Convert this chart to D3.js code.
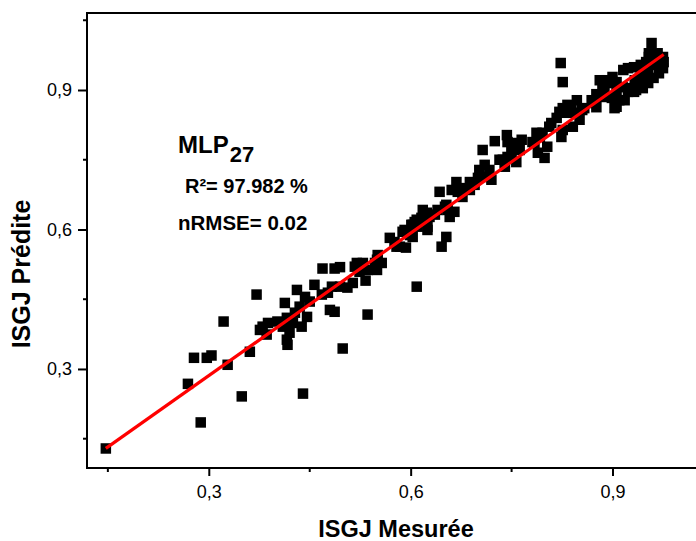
<!DOCTYPE html>
<html>
<head>
<meta charset="utf-8">
<script src="https://cdn.jsdelivr.net/npm/d3@7"></script>
<style>
  body { margin: 0; background: #fff; }
  svg { display: block; font-family: Arial, "Liberation Sans", sans-serif; }
  .axis-title { font-size: 23.5px; font-weight: bold; fill: #000; }
  .note { font-weight: bold; fill: #000; }
</style>
</head>
<body>
<div id="chart"></div>
<script>
const measured = [
  0.147,0.278,0.297,0.304,0.328,0.269,0.349,0.288,0.361,0.322,
  0.440,0.371,0.417,0.499,0.536,0.609,0.380,0.388,0.386,0.402,
  0.410,0.425,0.420,0.438,0.416,0.428,0.446,0.413,0.431,0.443,
  0.435,0.450,0.457,0.468,0.477,0.483,0.495,0.469,0.487,0.495,
  0.514,0.506,0.520,0.529,0.524,0.536,0.550,0.550,0.551,0.533,
  0.480,0.487,0.557,0.569,0.576,0.584,0.593,0.591,0.599,0.603,
  0.609,0.618,0.625,0.628,0.636,0.640,0.651,0.655,0.665,0.643,
  0.653,0.646,0.653,0.658,0.661,0.668,0.670,0.677,0.680,0.688,
  0.688,0.624,0.616,0.606,0.610,0.601,0.588,0.599,0.579,0.547,
  0.517,0.707,0.725,0.717,0.713,0.720,0.695,0.700,0.702,0.710,
  0.737,0.740,0.744,0.750,0.743,0.744,0.750,0.757,0.765,0.762,
  0.757,0.740,0.732,0.787,0.784,0.789,0.823,0.826,0.958,0.799,
  0.803,0.792,0.781,0.796,0.809,0.817,0.821,0.826,0.833,0.847,
  0.824,0.826,0.841,0.841,0.851,0.855,0.806,0.829,0.858,0.869,
  0.876,0.884,0.888,0.891,0.900,0.899,0.903,0.906,0.910,0.918,
  0.906,0.916,0.923,0.932,0.942,0.950,0.954,0.960,0.967,0.975,
  0.976,0.975,0.969,0.961,0.953,0.945,0.932,0.928,0.939,0.948,
  0.960,0.972,0.896,0.906,0.915,0.881,0.933,0.942,0.953,0.967,
  0.935,0.923,0.954,0.876,0.885,0.870,0.839,0.603,0.625,0.376,
  0.416
];
const predicted = [
  0.129,0.324,0.324,0.329,0.309,0.268,0.241,0.185,0.337,0.402,
  0.247,0.460,0.352,0.344,0.417,0.477,0.391,0.399,0.374,0.402,
  0.391,0.399,0.378,0.391,0.410,0.421,0.412,0.442,0.470,0.455,
  0.434,0.445,0.481,0.460,0.464,0.477,0.477,0.516,0.516,0.519,
  0.485,0.475,0.528,0.528,0.509,0.513,0.513,0.535,0.545,0.490,
  0.427,0.423,0.528,0.582,0.573,0.563,0.561,0.599,0.593,0.610,
  0.621,0.642,0.606,0.627,0.632,0.642,0.649,0.642,0.638,0.681,
  0.584,0.563,0.653,0.627,0.685,0.702,0.681,0.670,0.689,0.702,
  0.685,0.636,0.625,0.616,0.606,0.610,0.595,0.588,0.563,0.528,
  0.520,0.771,0.790,0.728,0.713,0.707,0.696,0.711,0.728,0.739,
  0.750,0.743,0.756,0.767,0.803,0.788,0.778,0.786,0.793,0.771,
  0.745,0.735,0.750,0.808,0.786,0.765,0.958,0.917,1.001,0.754,
  0.778,0.799,0.788,0.808,0.829,0.840,0.853,0.861,0.868,0.878,
  0.799,0.814,0.821,0.851,0.836,0.857,0.821,0.851,0.861,0.878,
  0.863,0.885,0.904,0.921,0.928,0.883,0.861,0.896,0.878,0.878,
  0.864,0.943,0.947,0.949,0.954,0.960,0.971,0.975,0.979,0.971,
  0.960,0.947,0.936,0.926,0.915,0.904,0.896,0.904,0.921,0.936,
  0.954,0.958,0.915,0.917,0.906,0.921,0.921,0.936,0.943,0.964,
  0.900,0.896,0.979,0.891,0.908,0.872,0.863,0.584,0.599,0.384,
  0.363
];

// fitted line
const fitSlope = 1.022;
const fitIntercept = -0.021;

// ticks
const majorTicks = [0.3, 0.6, 0.9];
const tickLabels = ["0,3", "0,6", "0,9"];
const minorTicksX = [0.15, 0.45, 0.75];
const minorTicksY = [0.15, 0.45, 0.75, 1.05];

const data = measured.map((m, i) => ({x: m, y: predicted[i]}));

// dimensions
const W = 696, H = 541;
const margin = {top: 13, right: -4, bottom: 73, left: 87};
const width = W - margin.left - margin.right;
const height = H - margin.top - margin.bottom;

const svg = d3.select("#chart")
  .append("svg")
    .attr("width", W)
    .attr("height", H)
  .append("g")
    .attr("transform", `translate(${margin.left}, ${margin.top})`);

const xScale = d3.scaleLinear().domain([0.119, 1.03]).range([0, width]);
const yScale = d3.scaleLinear().domain([0.087, 1.0656]).range([height, 0]);

// frame (top line)
svg.append("line")
  .attr("x1", 0).attr("x2", width + 10)
  .attr("y1", 0).attr("y2", 0)
  .attr("stroke", "#000").attr("stroke-width", 2);

// x axis
const xAxis = svg.append("g")
  .attr("transform", `translate(0, ${height})`);
xAxis.call(d3.axisBottom(xScale).tickValues(majorTicks).tickSize(8).tickPadding(9)
    .tickFormat((d, i) => tickLabels[i]))
  .call(g => g.select(".domain").attr("stroke-width", 2).attr("d", `M-1,0H${width + 10}`));
xAxis.selectAll(".tick line").attr("stroke-width", 2);
xAxis.selectAll(".tick text")
  .style("font-size", "18px")
  .style("font-family", "Arial, 'Liberation Sans', sans-serif")
  .attr("fill", "#000");
xAxis.append("g").selectAll("line")
  .data(minorTicksX)
  .join("line")
    .attr("x1", d => xScale(d)).attr("x2", d => xScale(d))
    .attr("y1", 0).attr("y2", 4)
    .attr("stroke", "#000").attr("stroke-width", 2);

// y axis
const yAxis = svg.append("g");
yAxis.call(d3.axisLeft(yScale).tickValues(majorTicks).tickSize(9).tickPadding(6)
    .tickFormat((d, i) => tickLabels[i]))
  .call(g => g.select(".domain").attr("stroke-width", 2).attr("d", `M0,-1V${height + 1}`));
yAxis.selectAll(".tick line").attr("stroke-width", 2);
yAxis.selectAll(".tick text")
  .style("font-size", "18px")
  .style("font-family", "Arial, 'Liberation Sans', sans-serif")
  .attr("fill", "#000");
yAxis.append("g").selectAll("line")
  .data(minorTicksY)
  .join("line")
    .attr("x1", 0).attr("x2", -4)
    .attr("y1", d => yScale(d)).attr("y2", d => yScale(d))
    .attr("stroke", "#000").attr("stroke-width", 2);

// points
const size = 10.5;
svg.append("g").selectAll("rect")
  .data(data)
  .join("rect")
    .attr("x", d => xScale(d.x) - size / 2)
    .attr("y", d => yScale(d.y) - size / 2)
    .attr("width", size)
    .attr("height", size)
    .attr("fill", "#000");

// regression line
const ext = d3.extent(measured);
svg.append("line")
  .attr("x1", xScale(ext[0])).attr("y1", yScale(fitIntercept + fitSlope * ext[0]))
  .attr("x2", xScale(ext[1])).attr("y2", yScale(fitIntercept + fitSlope * ext[1]))
  .attr("stroke", "#ff0000")
  .attr("stroke-width", 3.2);

// axis titles
svg.append("text")
  .attr("class", "axis-title")
  .attr("x", 396 - margin.left)
  .attr("y", 537 - margin.top)
  .attr("text-anchor", "middle")
  .text("ISGJ Mesurée");

svg.append("text")
  .attr("class", "axis-title")
  .attr("transform", `translate(${30 - margin.left}, ${274 - margin.top}) rotate(-90)`)
  .attr("text-anchor", "middle")
  .style("font-size", "25px")
  .text("ISGJ Prédite");

// annotations
const mlp = svg.append("text")
  .attr("class", "note")
  .attr("x", 178 - margin.left)
  .attr("y", 153 - margin.top)
  .attr("font-size", 24);
mlp.append("tspan").text("MLP");
mlp.append("tspan").attr("font-size", 22).attr("dy", 9).attr("dx", 1).text("27");

svg.append("text")
  .attr("class", "note")
  .attr("x", 185 - margin.left)
  .attr("y", 193 - margin.top)
  .attr("font-size", 20)
  .text("R²= 97.982 %");

svg.append("text")
  .attr("class", "note")
  .attr("x", 178 - margin.left)
  .attr("y", 230 - margin.top)
  .attr("font-size", 20.5)
  .text("nRMSE= 0.02");
</script>
</body>
</html>
